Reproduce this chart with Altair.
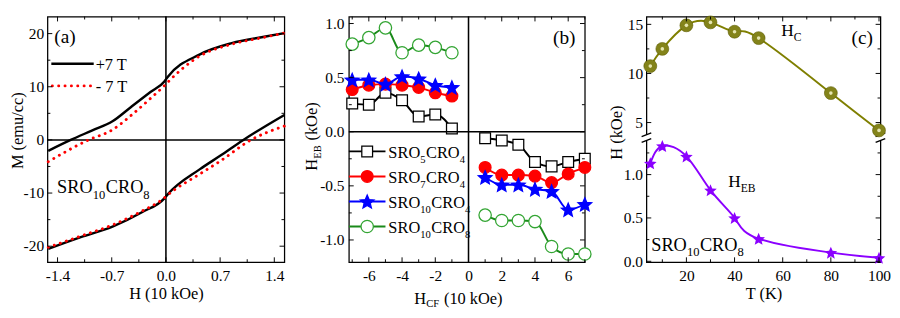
import math
import altair as alt
import pandas as pd

FONT = "Liberation Serif"

# ---------------- Panel (a): M (emu/cc) vs H (10 kOe) ----------------
A_POS_UP_H = [-1.52, -1.23, -0.95, -0.69, -0.45, -0.20, -0.02, 0.02, 0.44, 0.85, 1.27, 1.53]
A_POS_UP_M = [-2.05, 0.0, 1.8, 3.5, 6.2, 9.0, 11.0, 11.8, 16.1, 18.2, 19.4, 20.1]
A_POS_LO_H = [-1.52, -1.10, -0.69, -0.31, -0.02, 0.02, 0.44, 0.70, 1.00, 1.53]
A_POS_LO_M = [-20.5, -18.3, -16.3, -13.6, -11.0, -10.3, -5.5, -3.0, 0.0, 4.7]
A_NEG_UP_H = [-1.52, -1.00, -0.69, -0.45, -0.20, -0.02, 0.02, 0.44, 0.85, 1.27, 1.53]
A_NEG_UP_M = [-4.1, 0.0, 1.9, 4.6, 7.8, 10.2, 10.8, 15.8, 18.0, 19.3, 20.1]
A_NEG_LO_H = [-1.52, -1.10, -0.69, -0.31, -0.02, 0.02, 0.44, 0.70, 1.10, 1.53]
A_NEG_LO_M = [-20.2, -18.1, -16.0, -13.4, -10.9, -10.4, -6.4, -4.0, 0.0, 2.6]

# ---------------- Panel (b): H_EB (kOe) vs H_CF (10 kOe) ----------------
B_H_NEG = [-7, -6, -5, -4, -3, -2, -1]
B_H_POS = [1, 2, 3, 4, 5, 6, 7]
B_SRO5_NEG = [0.26, 0.25, 0.36, 0.29, 0.14, 0.16, 0.03]
B_SRO5_POS = [-0.06, -0.08, -0.12, -0.28, -0.32, -0.28, -0.25]
B_SRO7_NEG = [0.39, 0.43, 0.44, 0.43, 0.41, 0.36, 0.33]
B_SRO7_POS = [-0.33, -0.40, -0.40, -0.41, -0.47, -0.39, -0.33]
B_SRO10C4_NEG = [0.48, 0.48, 0.44, 0.51, 0.49, 0.43, 0.41]
B_SRO10C4_POS = [-0.42, -0.49, -0.49, -0.53, -0.55, -0.72, -0.67]
B_SRO10C8_NEG = [0.81, 0.87, 0.96, 0.73, 0.80, 0.78, 0.73]
B_SRO10C8_POS = [-0.77, -0.82, -0.82, -0.83, -1.06, -1.13, -1.13]

# ---------------- Panel (c): H (kOe) vs T (K) ----------------
C_T = [5, 10, 20, 30, 40, 50, 80, 100]
C_HC = [10.75, 12.5, 14.9, 15.2, 14.25, 13.6, 8.0, 4.2]
C_HEB = [1.13, 1.33, 1.21, 0.82, 0.50, 0.26, 0.10, 0.04]

# ---------------- layout constants ----------------
H = 255
WA, WB, WC = 246, 245, 243

EM = {'S': .556, 'R': .667, 'O': .722, 'C': .667, 'H': .722, 'E': .611, 'B': .667,
      'F': .556, ' ': .25, '(': .333, ')': .333, 'k': .5, 'e': .444, 'T': .611,
      '+': .564, '-': .333, 'K': .722, 'a': .444, 'b': .5, 'c': .444}
ONE = pd.DataFrame({"k": [0]})

# five-pointed star symbol path in the [-1, 1] box
_pts = []
for k in range(10):
    ang = math.radians(-90 + 36 * k)
    r = 1.0 if k % 2 == 0 else 0.45
    _pts.append(f"{r * math.cos(ang):.3f},{r * math.sin(ang) + 0.1:.3f}")
STAR = "M" + " L".join(_pts) + " Z"


def tw(s, size):
    return sum(EM.get(ch, 0.5) for ch in s) * size


def rich(pieces, x, y, angle=0, color="black"):
    """pieces: (text, font size, baseline shift, gap before in px)"""
    out, off = [], 0.0
    for text, size, dy, gap in pieces:
        off += gap
        kw = dict(text=text, font=FONT, fontSize=size, align="left",
                  baseline="alphabetic", dx=round(off, 1), dy=dy, color=color)
        if angle:
            kw["angle"] = angle
        out.append(alt.Chart(ONE).mark_text(**kw).encode(x=alt.value(x), y=alt.value(y)))
        off += tw(text, size)
    return out


def sro(a, b, big, small, sh):
    return [("SRO", big, 0, 0), (a, small, sh, 0), ("CRO", big, 0, 0.5), (b, small, sh, 0)]


def frame_ticks(xs, ys, W, xf, yf, xmaj, xmin, ymaj, ymin, major=5, minor=3):
    out = []
    for vals, L in ((xmaj, major), (xmin, minor)):
        base = alt.Chart(pd.DataFrame({xf: vals}))
        ex = alt.X(f"{xf}:Q", scale=xs)
        out.append(base.mark_rule(color="black", strokeWidth=1).encode(x=ex, y=alt.value(H), y2=alt.value(H - L)))
        out.append(base.mark_rule(color="black", strokeWidth=1).encode(x=ex, y=alt.value(0), y2=alt.value(L)))
    for vals, L in ((ymaj, major), (ymin, minor)):
        base = alt.Chart(pd.DataFrame({yf: vals}))
        ey = alt.Y(f"{yf}:Q", scale=ys)
        out.append(base.mark_rule(color="black", strokeWidth=1).encode(y=ey, x=alt.value(0), x2=alt.value(L)))
        out.append(base.mark_rule(color="black", strokeWidth=1).encode(y=ey, x=alt.value(W), x2=alt.value(W - L)))
    return out


def lbl(fmt):
    return f"(datum.value < 0 ? '-' : '') + format(abs(datum.value), '{fmt}')"


AX = dict(ticks=False, domain=False, grid=False)

# ================= Panel (a) =================
rows = []
for fld, br, hs, ms in (("p", "up", A_POS_UP_H, A_POS_UP_M), ("p", "lo", A_POS_LO_H, A_POS_LO_M),
                        ("n", "up", A_NEG_UP_H, A_NEG_UP_M), ("n", "lo", A_NEG_LO_H, A_NEG_LO_M)):
    for h, m in zip(hs, ms):
        rows.append({"H": h, "M": m, "field": fld, "branch": br})
df_a = pd.DataFrame(rows)

xa = alt.Scale(domain=[-1.53, 1.53], nice=False, zero=False)
ya = alt.Scale(domain=[-23.0, 23.2], nice=False, zero=False)
axA_x = alt.Axis(values=[-1.4, -0.7, 0, 0.7, 1.4], labelExpr=lbl(".1f"), title="H (10 kOe)",
                 labelPadding=6, titlePadding=3, **AX)
axA_y = alt.Axis(values=[-20, -10, 0, 10, 20], labelExpr=lbl("d"), title="M (emu/cc)",
                 labelPadding=4, titleX=-22, titleY=118, titleBaseline="bottom", **AX)

a_black = alt.Chart(df_a[df_a["field"] == "p"]).mark_line(
    color="black", strokeWidth=2.5, interpolate="monotone").encode(
    x=alt.X("H:Q", scale=xa, axis=axA_x), y=alt.Y("M:Q", scale=ya, axis=axA_y), detail="branch:N")
a_red = alt.Chart(df_a[df_a["field"] == "n"]).mark_line(
    color="#ff0000", strokeWidth=3, strokeDash=[0.1, 6.5], strokeCap="round", interpolate="monotone").encode(
    x=alt.X("H:Q", scale=xa), y=alt.Y("M:Q", scale=ya), detail="branch:N")
a_zero_x = alt.Chart(pd.DataFrame({"H": [0]})).mark_rule(color="black", strokeWidth=1.6).encode(
    x=alt.X("H:Q", scale=xa))
a_zero_y = alt.Chart(pd.DataFrame({"M": [0]})).mark_rule(color="black", strokeWidth=1.6).encode(
    y=alt.Y("M:Q", scale=ya))
a_leg = [
    alt.Chart(ONE).mark_rule(color="black", strokeWidth=2.5).encode(
        x=alt.value(4), x2=alt.value(48), y=alt.value(49), y2=alt.value(49)),
    alt.Chart(ONE).mark_rule(color="#ff0000", strokeWidth=3, strokeDash=[0.1, 6.5], strokeCap="round").encode(
        x=alt.value(5), x2=alt.value(48), y=alt.value(72), y2=alt.value(72)),
] + rich([("+7 T", 17, 0, 0)], 50, 55) + rich([("- 7 T", 17, 0, 0)], 50, 78) \
  + rich([("(a)", 20, 0, 0)], 7, 27) \
  + rich(sro("10", "8", 19, 13, 6), 10, 183)

panel_a = alt.layer(
    a_black, a_zero_x, a_zero_y, a_red, *a_leg,
    *frame_ticks(xa, ya, WA, "H", "M", [-1.4, -0.7, 0, 0.7, 1.4], [-1.05, -0.35, 0.35, 1.05],
                 [-20, -10, 0, 10, 20], [-15, -5, 5, 15]),
).properties(width=WA, height=H)

# ================= Panel (b) =================
rows = []
for name, neg, pos in (("s5c4", B_SRO5_NEG, B_SRO5_POS), ("s7c4", B_SRO7_NEG, B_SRO7_POS),
                       ("s10c4", B_SRO10C4_NEG, B_SRO10C4_POS), ("s10c8", B_SRO10C8_NEG, B_SRO10C8_POS)):
    for h, v in zip(B_H_NEG, neg):
        rows.append({"Hcf": h, "Heb": v, "series": name, "side": "neg"})
    for h, v in zip(B_H_POS, pos):
        rows.append({"Hcf": h, "Heb": v, "series": name, "side": "pos"})
df_b = pd.DataFrame(rows)

xb = alt.Scale(domain=[-7.2, 7.0], nice=False, zero=False)
yb = alt.Scale(domain=[-1.205, 1.064], nice=False, zero=False)
axB_x = alt.Axis(values=[-6, -4, -2, 0, 2, 4, 6], labelExpr=lbl("d"), title=None, labelPadding=6, **AX)
axB_y = alt.Axis(values=[-1.0, -0.5, 0, 0.5, 1.0], labelExpr=lbl(".1f"), title=None, labelPadding=5, **AX)

STY = {
    "s5c4": dict(line="black", shape="square", fill="white", stroke="black", size=125),
    "s7c4": dict(line="#ff0000", shape="circle", fill="#ff0000", stroke="#ff0000", size=150),
    "s10c4": dict(line="#0000ff", shape=STAR, fill="#0000ff", stroke="#0000ff", size=220),
    "s10c8": dict(line="#1a8a1a", shape="circle", fill="white", stroke="#33a533", size=165),
}
b_layers = []
first = True
for name in ("s5c4", "s7c4", "s10c4", "s10c8"):
    s = STY[name]
    sub = df_b[df_b["series"] == name]
    if first:
        ex, ey = alt.X("Hcf:Q", scale=xb, axis=axB_x), alt.Y("Heb:Q", scale=yb, axis=axB_y)
    else:
        ex, ey = alt.X("Hcf:Q", scale=xb), alt.Y("Heb:Q", scale=yb)
    first = False
    b_layers.append(alt.Chart(sub).mark_line(color=s["line"], strokeWidth=2, interpolate="monotone").encode(
        x=ex, y=ey, detail="side:N"))
    b_layers.append(alt.Chart(sub).mark_point(shape=s["shape"], filled=True, fill=s["fill"], stroke=s["stroke"],
                                              strokeWidth=1.3, size=s["size"], opacity=1).encode(
        x=alt.X("Hcf:Q", scale=xb), y=alt.Y("Heb:Q", scale=yb)))

b_zero_x = alt.Chart(pd.DataFrame({"Hcf": [0]})).mark_rule(color="black", strokeWidth=1.6).encode(
    x=alt.X("Hcf:Q", scale=xb))
b_zero_y = alt.Chart(pd.DataFrame({"Heb": [0]})).mark_rule(color="black", strokeWidth=1.6).encode(
    y=alt.Y("Heb:Q", scale=yb))

b_leg = []
for i, (name, subs) in enumerate((("s5c4", ("5", "4")), ("s7c4", ("7", "4")),
                                  ("s10c4", ("10", "4")), ("s10c8", ("10", "8")))):
    s = STY[name]
    yy = 140 + 26 * i
    b_leg.append(alt.Chart(ONE).mark_rule(color=s["line"], strokeWidth=2).encode(
        x=alt.value(0), x2=alt.value(38), y=alt.value(yy), y2=alt.value(yy)))
    b_leg.append(alt.Chart(ONE).mark_point(shape=s["shape"], filled=True, fill=s["fill"], stroke=s["stroke"],
                                           strokeWidth=1.3, size=s["size"], opacity=1).encode(
        x=alt.value(19), y=alt.value(yy)))
    b_leg += rich(sro(subs[0], subs[1], 17, 11, 5), 41, yy + 7)
b_leg += rich([("(b)", 20, 0, 0)], 212, 28)
b_leg += rich([("H", 17, 0, 0), ("EB", 11, 4, 0), ("(kOe)", 17, 0, 5)], -33, 160, angle=270)
b_leg += rich([("H", 17, 0, 0), ("CF", 11, 4, 0), ("(10 kOe)", 17, 0, 5)], 68, H + 43)

panel_b = alt.layer(
    *b_layers, b_zero_x, b_zero_y, *b_leg,
    *frame_ticks(xb, yb, WB, "Hcf", "Heb", [-6, -4, -2, 0, 2, 4, 6], [-7, -5, -3, -1, 1, 3, 5, 7],
                 [-1.0, -0.5, 0, 0.5, 1.0], [-0.75, -0.25, 0.25, 0.75]),
).properties(width=WB, height=H)

# ================= Panel (c) =================
BREAK_LO, BREAK_HI, K = 1.426, 3.46, 0.1133
YC_MIN, YC_MAX = -0.01, 2.823


def comb(v):
    return round(BREAK_LO + (v - BREAK_HI) * K, 4)


df_c = pd.DataFrame({"T": C_T, "HC": C_HC, "HEB": C_HEB})
xc = alt.Scale(domain=[3.4, 100.6], nice=False, zero=False)
yc = alt.Scale(domain=[YC_MIN, YC_MAX], nice=False, zero=False)
axC_x = alt.Axis(values=[20, 40, 60, 80, 100], format="d", title="T (K)", labelPadding=6, titlePadding=3, **AX)
axC_y = alt.Axis(values=[0, 0.5, 1.0, comb(5), comb(10), comb(15)],
                 labelExpr=f"datum.value < {BREAK_LO} ? format(datum.value, '.1f') : "
                           f"format((datum.value - {BREAK_LO}) / {K} + {BREAK_HI}, '.0f')",
                 title="H (kOe)", labelPadding=4, titleX=-22, titleY=120, titleBaseline="bottom", **AX)

ybr = round((YC_MAX - BREAK_LO) / (YC_MAX - YC_MIN) * H, 1)
c_break = []
for x0 in (0, WC):
    c_break.append(alt.Chart(ONE).mark_rect(color="white").encode(
        x=alt.value(x0 - 2), x2=alt.value(x0 + 2), y=alt.value(ybr - 3), y2=alt.value(ybr + 3)))
    for yy in (ybr - 3, ybr + 3):
        c_break.append(alt.Chart(ONE).mark_rule(color="black", strokeWidth=1.3).encode(
            x=alt.value(x0 - 5), x2=alt.value(x0 + 5), y=alt.value(yy + 2), y2=alt.value(yy - 2)))

CALC = f"{BREAK_LO} + (datum.HC - {BREAK_HI}) * {K}"
c_hc_line = alt.Chart(df_c).transform_calculate(Hk=CALC).mark_line(
    color="#7f7f00", strokeWidth=2, interpolate="natural").encode(
    x=alt.X("T:Q", scale=xc, axis=axC_x), y=alt.Y("Hk:Q", scale=yc, axis=axC_y))
c_hc_pts = alt.Chart(df_c).transform_calculate(Hk=CALC).mark_point(
    shape="circle", filled=True, color="#83831a", stroke="#5a5a00", strokeWidth=0.6, size=180, opacity=1).encode(
    x=alt.X("T:Q", scale=xc), y=alt.Y("Hk:Q", scale=yc))
c_hc_hi = alt.Chart(df_c).transform_calculate(Hk=CALC).mark_point(
    shape="circle", filled=True, color="#f0f0c0", size=14, opacity=0.9).encode(
    x=alt.X("T:Q", scale=xc), y=alt.Y("Hk:Q", scale=yc))
c_heb_line = alt.Chart(df_c).mark_line(color="#8b00ff", strokeWidth=2, interpolate="natural").encode(
    x=alt.X("T:Q", scale=xc), y=alt.Y("HEB:Q", scale=yc))
c_heb_pts = alt.Chart(df_c).mark_point(shape=STAR, filled=True, color="#8b00ff", size=190, opacity=1).encode(
    x=alt.X("T:Q", scale=xc), y=alt.Y("HEB:Q", scale=yc))

c_txt = rich([("(c)", 20, 0, 0)], 213, 28) \
    + rich([("H", 18, 0, 0), ("C", 12, 5, 0)], 140, 20) \
    + rich([("H", 18, 0, 0), ("EB", 12, 5, 0)], 85, 177) \
    + rich(sro("10", "8", 19, 13, 6), 5, 243)

panel_c = alt.layer(
    c_hc_line, *c_break, c_heb_line, c_hc_pts, c_hc_hi, c_heb_pts, *c_txt,
    *frame_ticks(xc, yc, WC, "T", "Hk", [20, 40, 60, 80, 100], [10, 30, 50, 70, 90],
                 [0, 0.5, 1.0, comb(5), comb(10), comb(15)],
                 [0.25, 0.75, 1.25, comb(7.5), comb(12.5)]),
).properties(width=WC, height=H)

chart = alt.hconcat(panel_a, panel_b, panel_c, spacing=12).properties(
    padding=0
).configure_view(stroke="black", strokeWidth=1.3).configure_axis(
    labelFont=FONT, labelFontSize=16, labelColor="black",
    titleFont=FONT, titleFontSize=17, titleColor="black", titleFontWeight="normal",
)

chart.save("out.html", embed_options={"renderer": "svg", "actions": False})
